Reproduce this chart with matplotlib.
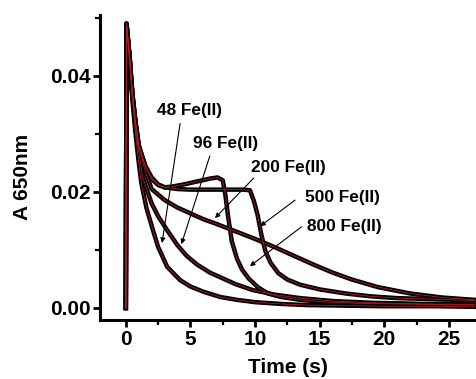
import matplotlib
matplotlib.use('Agg')
import matplotlib.pyplot as plt
from matplotlib.ticker import MultipleLocator

# kinetic traces at 650 nm
t_48 = [0, 0.05, 0.3, 0.5, 0.75, 1.0, 1.2, 1.6, 2.1, 2.5, 3.2, 4.2, 5.0, 6.0, 7.3, 8.6, 10, 12, 14, 17, 20, 24, 27]
a_48 = [0, 0.049, 0.042, 0.036, 0.030, 0.025, 0.0215, 0.0172, 0.0134, 0.0105, 0.0071, 0.0048, 0.0037, 0.0028, 0.0019, 0.0014,
        0.0010, 0.0007, 0.0005, 0.0004, 0.0003, 0.0003, 0.0002]

t_96 = [0, 0.05, 0.3, 0.5, 0.75, 1.0, 1.3, 2.0, 2.5, 3.2, 4.0, 4.7, 5.5, 6.5, 7.3, 8.5, 9.8, 11.5, 13.5, 16, 19, 23, 27]
a_96 = [0, 0.049, 0.043, 0.037, 0.031, 0.027, 0.0225, 0.0180, 0.0158, 0.0134, 0.0108, 0.0090, 0.0075, 0.0061, 0.0053,
        0.0041, 0.0031, 0.0023, 0.0017, 0.0012, 0.0009, 0.0007, 0.0006]

t_200 = [0, 0.05, 0.3, 0.5, 0.75, 1.0, 1.5, 2.0, 3.0, 4.0, 5.0, 6.0, 7.0, 8.5, 10, 11.5, 13, 14.5, 16, 17.5, 19.5, 22, 24.5, 27]
a_200 = [0, 0.049, 0.043, 0.037, 0.032, 0.028, 0.0235, 0.0205, 0.0186, 0.0173, 0.0163, 0.0153, 0.0145, 0.0132, 0.0119,
         0.0105, 0.0090, 0.0075, 0.0061, 0.0049, 0.0036, 0.0025, 0.0018, 0.0014]

t_500 = [0, 0.05, 0.3, 0.5, 0.75, 1.0, 1.5, 2.0, 2.5, 3.0, 4, 5, 6, 7, 8, 9, 9.6, 9.9, 10.2, 10.5, 10.8, 11.2, 11.8, 12.5,
         13.5, 15, 17, 19, 21, 24, 27]
a_500 = [0, 0.049, 0.043, 0.037, 0.032, 0.028, 0.0245, 0.0225, 0.0213, 0.0208, 0.0205, 0.0204, 0.0204, 0.0204, 0.0204,
         0.0204, 0.0203, 0.0185, 0.0160, 0.0125, 0.0098, 0.0078, 0.0060, 0.0049, 0.0040, 0.0032, 0.0025, 0.0020, 0.0017,
         0.0015, 0.0013]

t_800 = [0, 0.05, 0.3, 0.5, 0.75, 1.0, 1.5, 2.0, 2.5, 3.0, 3.5, 4.5, 5.5, 6.5, 7.1, 7.5, 7.7, 7.9, 8.2, 8.6, 9.0, 9.5, 10.2,
         11, 12, 13.5, 15, 18, 21, 24, 27]
a_800 = [0, 0.049, 0.043, 0.037, 0.032, 0.028, 0.0245, 0.0222, 0.0212, 0.0208, 0.0209, 0.0213, 0.0218, 0.0223, 0.0225,
         0.0220, 0.0195, 0.0160, 0.0115, 0.0085, 0.0066, 0.0051, 0.0036, 0.0025, 0.0019, 0.0014, 0.0011, 0.0008, 0.0007,
         0.0006, 0.0005]

traces = [(t_48, a_48), (t_96, a_96), (t_200, a_200), (t_500, a_500), (t_800, a_800)]

# label text, label position, arrow tail, arrow head (data coords)
labels = ['48 Fe(II)', '96 Fe(II)', '200 Fe(II)', '500 Fe(II)', '800 Fe(II)']
label_xy = [(2.4, 0.034), (5.2, 0.0284), (9.7, 0.0243), (13.9, 0.0191), (14.0, 0.0140)]
tail_xy = [(4.2, 0.0318), (6.5, 0.0262), (9.9, 0.0224), (13.1, 0.0186), (13.6, 0.0140)]
head_xy = [(2.8, 0.0112), (4.3, 0.0110), (6.9, 0.0155), (10.4, 0.0141), (9.6, 0.0072)]

plt.rcParams['font.family'] = ['Liberation Sans', 'DejaVu Sans']
plt.rcParams['font.weight'] = 'bold'

fig = plt.figure(figsize=(4.76, 3.79), dpi=100)
ax = fig.add_axes([0.2101, 0.1557, 0.7899, 0.8047])

# black "data" band with the thin red fit on top
for t, a in traces:
    ax.plot(t, a, color='black', lw=3.2, solid_joinstyle='round', zorder=2)
for t, a in traces:
    ax.plot(t, a, color='#a81e22', lw=0.6, zorder=3)

for text, lxy, txy, hxy in zip(labels, label_xy, tail_xy, head_xy):
    ax.text(lxy[0], lxy[1], text, fontsize=12.4, fontweight='bold', va='center', ha='left', zorder=4)
    ax.annotate('', xy=hxy, xytext=txy,
                arrowprops=dict(arrowstyle='-|>', lw=0.8, color='black', mutation_scale=7, shrinkA=0, shrinkB=0),
                zorder=4)

ax.set_xlim(-2, 27.1)
ax.set_ylim(-0.00207, 0.0505)
ax.xaxis.set_major_locator(MultipleLocator(5))
ax.xaxis.set_minor_locator(MultipleLocator(2.5))
ax.yaxis.set_major_locator(MultipleLocator(0.02))
ax.yaxis.set_minor_locator(MultipleLocator(0.01))
ax.yaxis.set_major_formatter(matplotlib.ticker.FormatStrFormatter('%.2f'))

for side in ['top', 'right']:
    ax.spines[side].set_visible(False)
for side in ['left', 'bottom']:
    ax.spines[side].set_linewidth(2.2)

ax.tick_params(which='major', length=5, width=2.0, labelsize=15, pad=2)
ax.tick_params(which='minor', length=3.5, width=1.6)
for lab in ax.get_xticklabels() + ax.get_yticklabels():
    lab.set_fontweight('bold')

ax.set_xlabel('Time (s)', fontsize=15, fontweight='bold', labelpad=7)
ax.set_ylabel('A 650nm', fontsize=15, fontweight='bold')
ax.yaxis.set_label_coords(-0.182, 0.47)

fig.savefig('out.png', dpi=100)
